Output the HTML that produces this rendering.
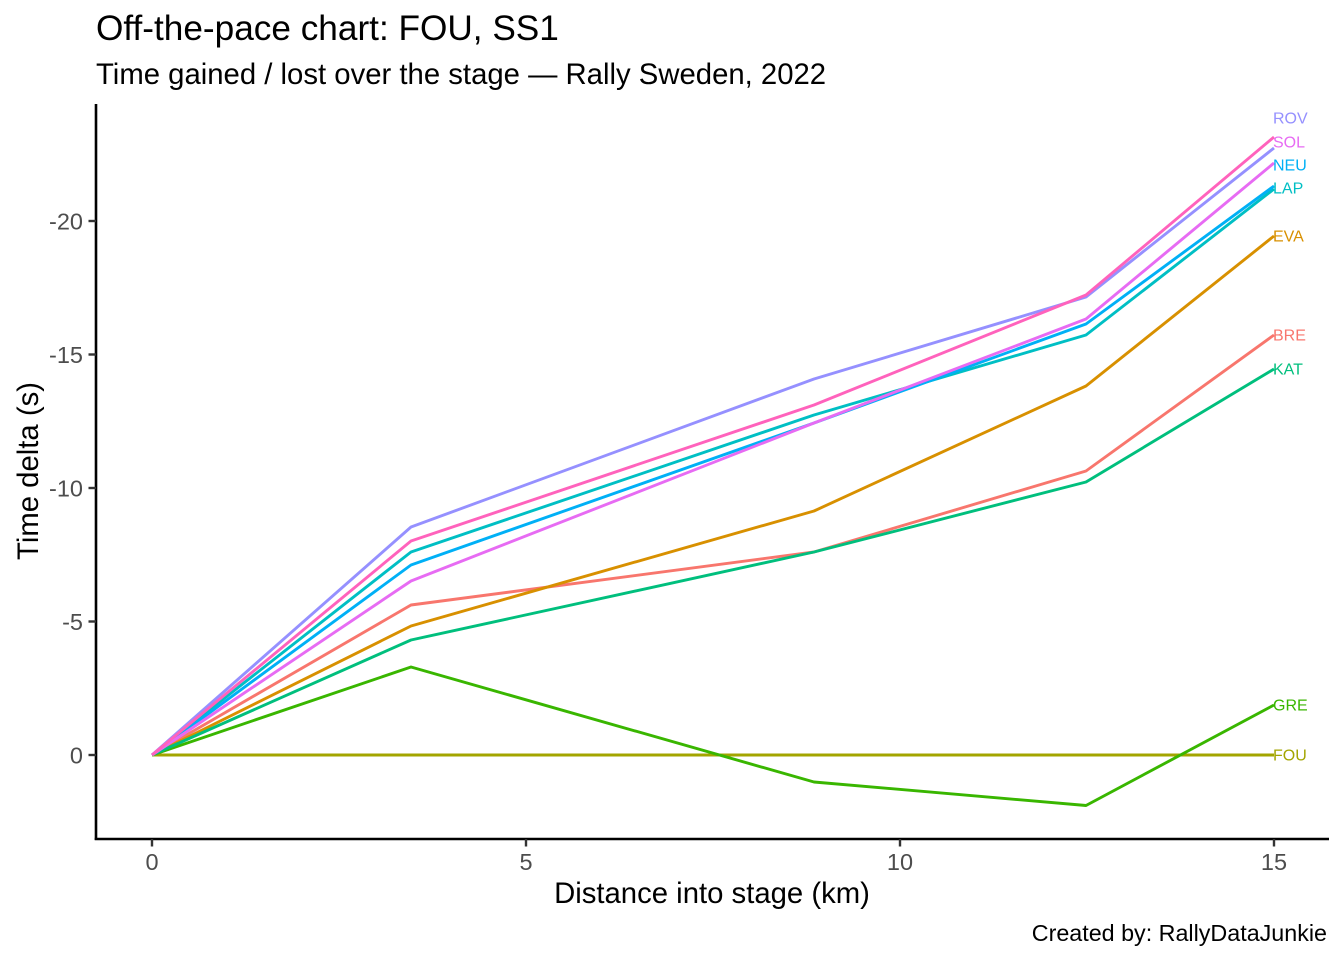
<!DOCTYPE html>
<html>
<head>
<meta charset="utf-8">
<style>
  html, body { margin: 0; padding: 0; background: #ffffff; }
  svg { display: block; }
  text { font-family: "Liberation Sans", Arial, sans-serif; }
</style>
</head>
<body>
<svg width="1344" height="960" viewBox="0 0 1344 960" xmlns="http://www.w3.org/2000/svg">
  <rect x="0" y="0" width="1344" height="960" fill="#ffffff"/>

  <!-- Titles -->
  <text x="96" y="40" font-size="35.2" fill="#000000">Off-the-pace chart: FOU, SS1</text>
  <text x="96" y="84" font-size="29.3" fill="#000000">Time gained / lost over the stage — Rally Sweden, 2022</text>

  <!-- Series lines -->
  <g fill="none" stroke-width="2.9" stroke-linejoin="round" stroke-linecap="butt">
    <polyline stroke="#F8766D" points="152,755 411,605 814,552 1086,471 1274,335"/>
    <polyline stroke="#D89000" points="152,755 411,626 814,511 1086,386 1274,236"/>
    <polyline stroke="#A3A500" points="152,755 411,755 814,755 1086,755 1274,755"/>
    <polyline stroke="#39B600" points="152,755 411,667 814,782 1086,805.5 1274,705"/>
    <polyline stroke="#00BF7D" points="152,755 411,640 814,552 1086,482 1274,369"/>
    <polyline stroke="#00BFC4" points="152,755 411,552 814,415 1086,335 1274,189"/>
    <polyline stroke="#00B0F6" points="152,755 411,565 814,423 1086,324 1274,186"/>
    <polyline stroke="#9590FF" points="152,755 411,527 814,379 1086,297 1274,148"/>
    <polyline stroke="#E76BF3" points="152,755 411,581 814,423 1086,319 1274,163"/>
    <polyline stroke="#FF62BC" points="152,755 411,541 814,405 1086,295 1274,137"/>
  </g>

  <!-- End labels -->
  <g font-size="16" dominant-baseline="central">
    <text x="1273" y="119" fill="#9590FF">ROV</text>
    <text x="1273" y="143" fill="#E76BF3">SOL</text>
    <text x="1273" y="166" fill="#00B0F6">NEU</text>
    <text x="1273" y="189" fill="#00BFC4">LAP</text>
    <text x="1273" y="237" fill="#D89000">EVA</text>
    <text x="1273" y="336" fill="#F8766D">BRE</text>
    <text x="1273" y="370" fill="#00BF7D">KAT</text>
    <text x="1273" y="706" fill="#39B600">GRE</text>
    <text x="1273" y="756" fill="#A3A500">FOU</text>
  </g>

  <!-- Axes -->
  <g stroke="#000000" stroke-width="2.6" fill="none">
    <line x1="96" y1="104" x2="96" y2="840"/>
    <line x1="94.7" y1="839" x2="1329" y2="839"/>
  </g>

  <!-- Y ticks -->
  <g stroke="#333333" stroke-width="2.4">
    <line x1="88.5" y1="221" x2="96" y2="221"/>
    <line x1="88.5" y1="354.5" x2="96" y2="354.5"/>
    <line x1="88.5" y1="488" x2="96" y2="488"/>
    <line x1="88.5" y1="621.5" x2="96" y2="621.5"/>
    <line x1="88.5" y1="755" x2="96" y2="755"/>
  </g>
  <g font-size="23.5" fill="#4D4D4D" text-anchor="end">
    <text x="83" y="229.4">-20</text>
    <text x="83" y="362.9">-15</text>
    <text x="83" y="496.4">-10</text>
    <text x="83" y="629.9">-5</text>
    <text x="83" y="763.4">0</text>
  </g>

  <!-- X ticks -->
  <g stroke="#333333" stroke-width="2.4">
    <line x1="152" y1="839" x2="152" y2="846.5"/>
    <line x1="526" y1="839" x2="526" y2="846.5"/>
    <line x1="900" y1="839" x2="900" y2="846.5"/>
    <line x1="1274" y1="839" x2="1274" y2="846.5"/>
  </g>
  <g font-size="23.5" fill="#4D4D4D" text-anchor="middle">
    <text x="152" y="870">0</text>
    <text x="526" y="870">5</text>
    <text x="900" y="870">10</text>
    <text x="1274" y="870">15</text>
  </g>

  <!-- Axis titles -->
  <text x="712" y="903" font-size="29.3" fill="#000000" text-anchor="middle">Distance into stage (km)</text>
  <text transform="translate(38,471) rotate(-90)" font-size="29.3" fill="#000000" text-anchor="middle">Time delta (s)</text>

  <!-- Caption -->
  <text x="1327" y="941" font-size="23.3" fill="#000000" text-anchor="end">Created by: RallyDataJunkie</text>
</svg>
</body>
</html>
